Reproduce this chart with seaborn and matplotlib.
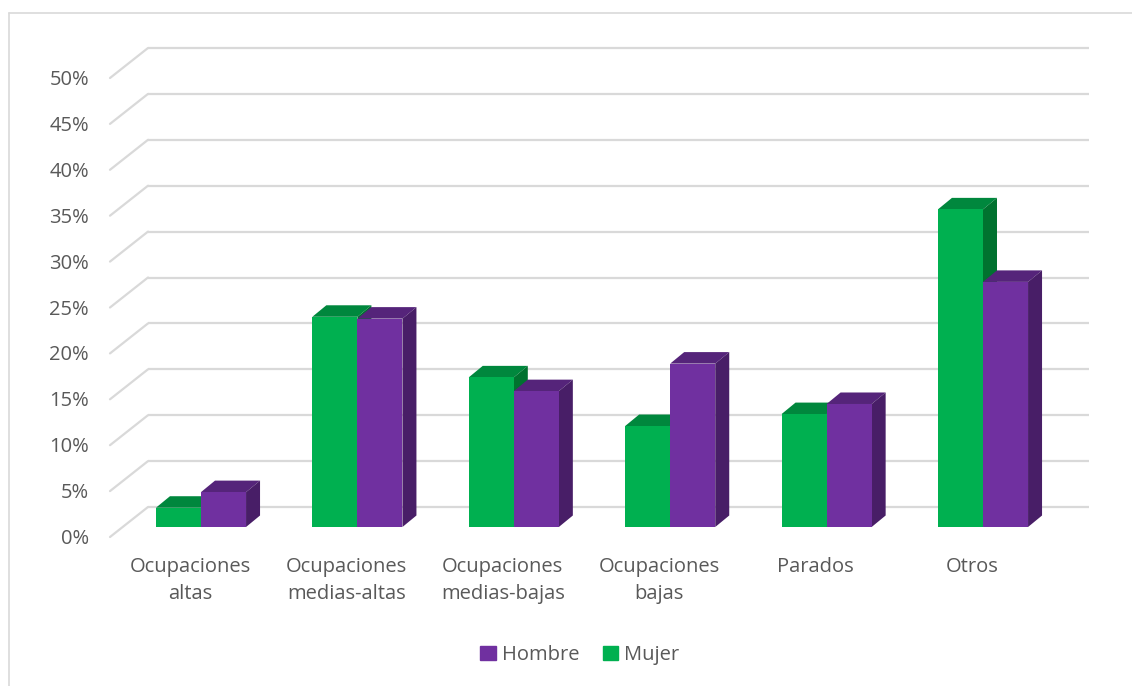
import matplotlib
matplotlib.use("Agg")
import matplotlib.pyplot as plt
import matplotlib.patches as mpatches
import seaborn as sns
import pandas as pd
import numpy as np

categories = ["Ocupaciones\naltas", "Ocupaciones\nmedias-altas", "Ocupaciones\nmedias-bajas",
              "Ocupaciones\nbajas", "Parados", "Otros"]
mujer = [2.1, 22.9, 16.3, 11.0, 12.3, 34.6]
hombre = [3.8, 22.7, 14.8, 17.8, 13.4, 26.7]
series = ["Mujer", "Hombre"]
yticks = [0, 5, 10, 15, 20, 25, 30, 35, 40, 45, 50]
ytick_labels = [f"{t}%" for t in yticks]

colors = {"Mujer": "#00B050", "Hombre": "#7030A0"}
top_colors = {"Mujer": "#00873D", "Hombre": "#55247A"}
side_colors = {"Mujer": "#00722F", "Hombre": "#481E67"}

df = pd.DataFrame({
    "cat": categories * 2,
    "val": mujer + hombre,
    "sexo": ["Mujer"] * len(categories) + ["Hombre"] * len(categories),
})

sns.set_theme(style="white")
plt.rcParams['font.family'] = ['Open Sans', 'DejaVu Sans']

W, H = 1132, 686
fig = plt.figure(figsize=(W / 100, H / 100), dpi=100)
ax = fig.add_axes([0, 0, 1, 1])

# pixel mapping
px_per_cat = 156.4
x0_px = 201.0
px_per_pct = 9.18
y0_px = 527.0
XLIM = (-x0_px / px_per_cat, (W - x0_px) / px_per_cat)
YLIM = (-(H - y0_px) / px_per_pct, y0_px / px_per_pct)

def dx(px):
    return px / px_per_cat

def dy(px):
    return px / px_per_pct

def X(px):
    return (px - x0_px) / px_per_cat

def Y(py):
    return (y0_px - py) / px_per_pct

sns.barplot(data=df, x="cat", y="val", hue="sexo", hue_order=series,
            palette=colors, width=0.576, gap=0, saturation=1, ax=ax,
            edgecolor="none", linewidth=0, legend=False, zorder=3)
ax.set_xlim(*XLIM)
ax.set_ylim(*YLIM)

fs = 14.5
tc = "#595959"

# gridlines (back wall + left diagonals)
grid_c = "#D9D9D9"
for t, lab in zip(yticks, ytick_labels):
    yb = t + dy(20)
    yf = t - dy(10)
    ax.plot([X(148), X(1089)], [yb, yb], color=grid_c, lw=1.6, zorder=0, solid_capstyle="butt")
    ax.plot([X(110), X(148)], [yf, yb], color=grid_c, lw=1.6, zorder=0)
    ax.text(X(89), yf - dy(2), lab, ha="right", va="center", fontsize=fs, color=tc)

# 3D faces
ddx, ddy = dx(14), dy(11.5)
for container, s in zip(ax.containers, series):
    for bar in container:
        x, w, h = bar.get_x(), bar.get_width(), bar.get_height()
        top = mpatches.Polygon([(x, h), (x + ddx, h + ddy), (x + w + ddx, h + ddy), (x + w, h)],
                               closed=True, facecolor=top_colors[s], edgecolor="none", zorder=2)
        side = mpatches.Polygon([(x + w, 0), (x + w + ddx, ddy), (x + w + ddx, h + ddy), (x + w, h)],
                                closed=True, facecolor=side_colors[s], edgecolor="none", zorder=2)
        ax.add_patch(top)
        ax.add_patch(side)

for bar in ax.containers[1]:
    bar.set_zorder(4)

ax.set_xticks([])
ax.set_yticks([])
ax.set_xlabel("")
ax.set_ylabel("")
for sp in ax.spines.values():
    sp.set_visible(False)

# category labels
for i, c in enumerate(categories):
    ax.text(i - dx(11), Y(557), c, ha="center", va="top", fontsize=fs,
            color=tc, linespacing=1.45)

# border
ax.plot([X(8.5), X(8.5)], [YLIM[0], Y(12.5)], color="#D9D9D9", lw=1.2, zorder=0)
ax.plot([X(8.5), X(1132)], [Y(12.5), Y(12.5)], color="#D9D9D9", lw=1.2, zorder=0)

# legend
handles = [mpatches.Patch(color=colors["Hombre"], label="Hombre"),
           mpatches.Patch(color=colors["Mujer"], label="Mujer")]
leg = fig.legend(handles=handles, loc="center", bbox_to_anchor=(580 / W, 1 - 655 / H),
                 ncol=2, frameon=False, fontsize=fs, handlelength=0.75, handleheight=0.75,
                 handletextpad=0.3, columnspacing=1.2)
for t in leg.get_texts():
    t.set_color(tc)

fig.savefig("out.png", dpi=100)
